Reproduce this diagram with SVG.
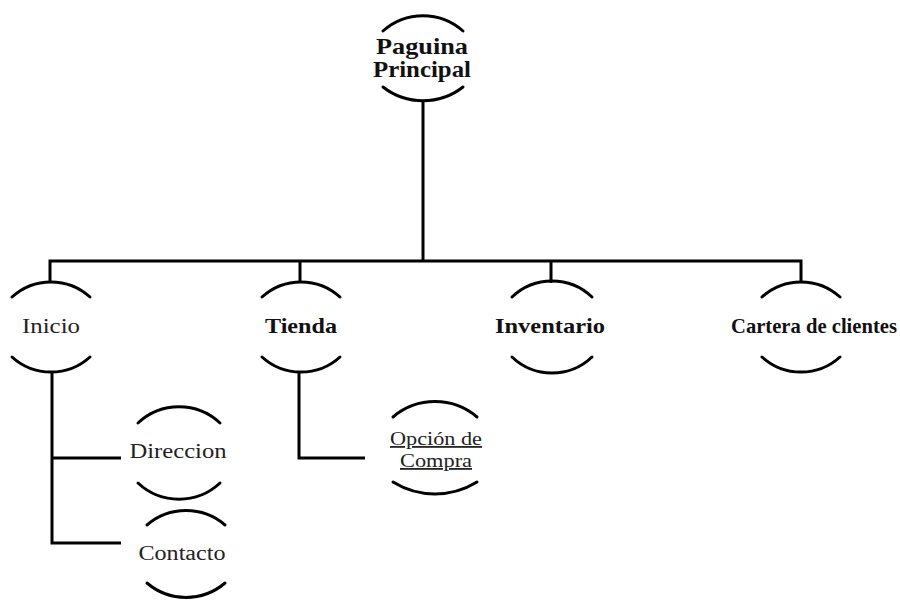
<svg xmlns="http://www.w3.org/2000/svg" width="900" height="601" viewBox="0 0 900 601">
<style>
.arc{fill:none;stroke:#000;stroke-width:3;stroke-linecap:round}
.con{fill:none;stroke:#000;stroke-width:3;stroke-linejoin:miter}
.b{font-family:"Liberation Serif","Times New Roman",serif;font-weight:bold;fill:#111;text-anchor:middle}
.r{font-family:"Liberation Serif","Times New Roman",serif;fill:#222;text-anchor:middle}
</style>
<rect width="900" height="601" fill="#fff"/>
<g id="connectors">
<path class="con" d="M423 100 V261"/>
<path class="con" d="M50 283 V261 H801 V283"/>
<path class="con" d="M300 261 V283"/>
<path class="con" d="M551 261 V283"/>
<path class="con" d="M52 372 V543 H121"/>
<path class="con" d="M52 458 H121"/>
<path class="con" d="M299 372 V458 H365"/>
</g>
<g id="paguina-principal">
<path class="arc" d="M383 31 A60 60 0 0 1 463 31"/>
<path class="arc" d="M383 87 A65 65 0 0 0 463 87"/>
<text class="b" x="422" y="54" font-size="23" textLength="92" lengthAdjust="spacingAndGlyphs">Paguina</text>
<text class="b" x="422" y="77" font-size="23" textLength="98" lengthAdjust="spacingAndGlyphs">Principal</text>
</g>
<g id="inicio">
<path class="arc" d="M12 297 A58 58 0 0 1 90 297"/>
<path class="arc" d="M12 357 A58 58 0 0 0 90 357"/>
<text class="r" x="51" y="333" font-size="20" textLength="58" lengthAdjust="spacingAndGlyphs">Inicio</text>
</g>
<g id="tienda">
<path class="arc" d="M262 297 A58 58 0 0 1 340 297"/>
<path class="arc" d="M262 357 A58 58 0 0 0 340 357"/>
<text class="b" x="301" y="333" font-size="21" textLength="72" lengthAdjust="spacingAndGlyphs">Tienda</text>
</g>
<g id="inventario">
<path class="arc" d="M512 297 A58 58 0 0 1 592 297"/>
<path class="arc" d="M512 357 A58 58 0 0 0 592 357"/>
<text class="b" x="550" y="333" font-size="21" textLength="110" lengthAdjust="spacingAndGlyphs">Inventario</text>
</g>
<g id="cartera-de-clientes">
<path class="arc" d="M762 297 A58 58 0 0 1 840 297"/>
<path class="arc" d="M762 357 A58 58 0 0 0 840 357"/>
<text class="b" x="814" y="333" font-size="21" textLength="166" lengthAdjust="spacingAndGlyphs">Cartera de clientes</text>
</g>
<g id="direccion">
<path class="arc" d="M138 423 A60 60 0 0 1 220 423"/>
<path class="arc" d="M138 483 A60 60 0 0 0 220 483"/>
<text class="r" x="178" y="458" font-size="20" textLength="97" lengthAdjust="spacingAndGlyphs">Direccion</text>
</g>
<g id="contacto">
<path class="arc" d="M147 525 A60 60 0 0 1 225 525"/>
<path class="arc" d="M147 583 A60 60 0 0 0 225 583"/>
<text class="r" x="182" y="560" font-size="20" textLength="87" lengthAdjust="spacingAndGlyphs">Contacto</text>
</g>
<g id="opcion-de-compra">
<path class="arc" d="M393 417 A65 65 0 0 1 477 417"/>
<path class="arc" d="M393 482 A80 80 0 0 0 477 482"/>
<text class="r" x="436" y="445" font-size="18" text-decoration="underline" textLength="92" lengthAdjust="spacingAndGlyphs">Opción de</text>
<text class="r" x="436" y="467" font-size="18" text-decoration="underline" textLength="72" lengthAdjust="spacingAndGlyphs">Compra</text>
</g>
</svg>
